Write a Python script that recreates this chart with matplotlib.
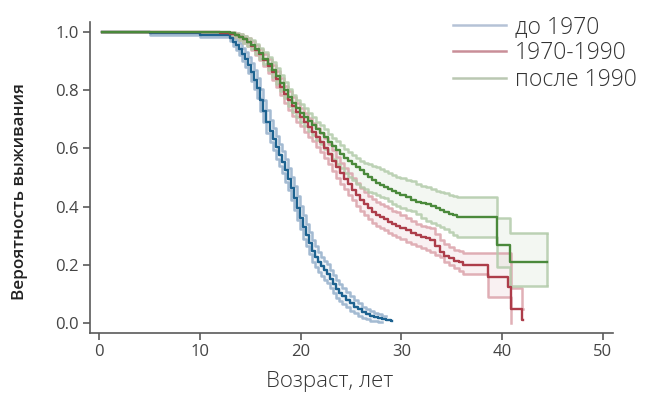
import numpy as np
import matplotlib
matplotlib.use("Agg")
import matplotlib.pyplot as plt

plt.rcParams['font.family'] = ['Open Sans', 'DejaVu Sans']

# --- данные (возраст, выживаемость, границы интервала) ---
labels = ['до 1970', '1970-1990', 'после 1990']

blue_t = [0.3, 5, 10, 13.0, 13.3, 13.6, 13.9, 14.2, 14.5, 14.8,
          15.1, 15.4, 15.7, 16.0, 16.3, 16.6, 16.9, 17.2, 17.5, 17.8,
          18.1, 18.4, 18.7, 19.0, 19.3, 19.6, 19.9, 20.2, 20.5, 20.8,
          21.1, 21.4, 21.7, 22.0, 22.3, 22.6, 22.9, 23.2, 23.5, 23.8,
          24.1, 24.5, 24.9, 25.3, 25.7, 26.1, 26.5, 26.9, 27.3, 27.7,
          28.1, 28.5, 29.0, 29.1]
blue_s = [1.0, 0.995, 0.99, 0.979, 0.966, 0.953, 0.94, 0.922, 0.905, 0.885,
          0.862, 0.835, 0.807, 0.765, 0.727, 0.692, 0.66, 0.632, 0.603, 0.578,
          0.552, 0.524, 0.494, 0.463, 0.43, 0.395, 0.362, 0.33, 0.302, 0.276,
          0.248, 0.228, 0.21, 0.195, 0.182, 0.17, 0.152, 0.134, 0.118, 0.105,
          0.093, 0.08, 0.068, 0.057, 0.047, 0.037, 0.031, 0.026, 0.022, 0.019,
          0.014, 0.01, 0.007, 0.007]
blue_hi = [1.0, 1.0, 0.998, 0.99, 0.98, 0.97, 0.96, 0.945, 0.93, 0.912,
           0.892, 0.868, 0.842, 0.802, 0.765, 0.73, 0.698, 0.67, 0.642, 0.616,
           0.59, 0.562, 0.532, 0.502, 0.47, 0.435, 0.402, 0.37, 0.34, 0.313,
           0.285, 0.264, 0.245, 0.228, 0.215, 0.202, 0.184, 0.165, 0.148, 0.134,
           0.121, 0.106, 0.093, 0.08, 0.068, 0.057, 0.049, 0.042, 0.036, 0.031,
           0.024, 0.024]
blue_lo = [1.0, 0.988, 0.982, 0.968, 0.952, 0.936, 0.92, 0.9, 0.88, 0.858,
           0.832, 0.802, 0.772, 0.728, 0.69, 0.654, 0.622, 0.594, 0.564, 0.54,
           0.514, 0.486, 0.456, 0.424, 0.39, 0.355, 0.322, 0.29, 0.264, 0.239,
           0.211, 0.192, 0.175, 0.162, 0.149, 0.138, 0.12, 0.103, 0.088, 0.076,
           0.065, 0.054, 0.043, 0.034, 0.026, 0.018, 0.013, 0.009, 0.006, 0.003,
           0.003]

red_t = [0.3, 12.0, 13.0, 13.5, 13.9, 14.3, 14.7, 15.1, 15.5, 15.9,
         16.3, 16.7, 17.1, 17.5, 17.9, 18.3, 18.7, 19.1, 19.5, 19.9,
         20.3, 20.7, 21.1, 21.5, 21.9, 22.3, 22.7, 23.1, 23.5, 23.9,
         24.3, 24.7, 25.1, 25.5, 25.9, 26.3, 26.7, 27.1, 27.5, 27.9,
         28.3, 28.7, 29.1, 29.5, 29.9, 30.4, 30.9, 31.4, 31.9, 32.4,
         32.8, 33.3, 33.8, 34.2, 34.7, 35.2, 35.7, 36.1, 38.6, 40.6,
         40.9, 42.0, 42.1]
red_s = [1.0, 0.997, 0.993, 0.99, 0.983, 0.974, 0.965, 0.952, 0.938, 0.922,
         0.903, 0.883, 0.862, 0.838, 0.812, 0.786, 0.765, 0.745, 0.725, 0.707,
         0.69, 0.673, 0.656, 0.638, 0.62, 0.6, 0.58, 0.558, 0.535, 0.515,
         0.496, 0.476, 0.458, 0.44, 0.423, 0.408, 0.395, 0.382, 0.372, 0.365,
         0.357, 0.348, 0.34, 0.334, 0.328, 0.318, 0.308, 0.302, 0.297, 0.292,
         0.285, 0.265, 0.245, 0.232, 0.222, 0.215, 0.21, 0.2, 0.16, 0.124,
         0.05, 0.01, 0.01]
red_hi = [1.0, 1.0, 0.999, 0.997, 0.992, 0.985, 0.978, 0.967, 0.955, 0.94,
          0.923, 0.905, 0.886, 0.864, 0.84, 0.815, 0.795, 0.776, 0.756, 0.738,
          0.722, 0.705, 0.688, 0.671, 0.653, 0.634, 0.614, 0.593, 0.571, 0.551,
          0.533, 0.514, 0.497, 0.48, 0.464, 0.45, 0.438, 0.426, 0.416, 0.41,
          0.402, 0.394, 0.386, 0.38, 0.372, 0.362, 0.35, 0.34, 0.335, 0.33,
          0.326, 0.305, 0.285, 0.272, 0.26, 0.252, 0.246, 0.24, 0.24, 0.24,
          0.12, 0.05, 0.05]
red_lo = [1.0, 0.993, 0.986, 0.982, 0.973, 0.962, 0.95, 0.936, 0.92, 0.902,
          0.881, 0.859, 0.836, 0.81, 0.782, 0.755, 0.733, 0.712, 0.692, 0.675,
          0.657, 0.64, 0.624, 0.606, 0.587, 0.566, 0.545, 0.522, 0.499, 0.479,
          0.46, 0.44, 0.421, 0.403, 0.386, 0.37, 0.356, 0.344, 0.335, 0.328,
          0.32, 0.311, 0.302, 0.295, 0.288, 0.278, 0.27, 0.265, 0.258, 0.252,
          0.245, 0.235, 0.228, 0.21, 0.198, 0.188, 0.178, 0.168, 0.09, 0.09,
          0.0]

green_t = [0.3, 12.0, 13.0, 13.5, 13.9, 14.3, 14.7, 15.1, 15.5, 15.9,
           16.3, 16.7, 17.1, 17.5, 17.9, 18.3, 18.7, 19.1, 19.5, 19.9,
           20.3, 20.7, 21.1, 21.5, 21.9, 22.3, 22.7, 23.1, 23.5, 23.9,
           24.3, 24.7, 25.1, 25.5, 25.9, 26.3, 26.7, 27.1, 27.5, 27.9,
           28.3, 28.7, 29.1, 29.5, 29.9, 30.4, 30.9, 31.4, 31.9, 32.4,
           32.9, 33.4, 33.8, 34.2, 34.7, 35.1, 35.5, 39.5, 40.8, 44.4]
green_s = [1.0, 0.998, 0.995, 0.99, 0.983, 0.975, 0.966, 0.955, 0.941, 0.926,
           0.908, 0.89, 0.87, 0.848, 0.825, 0.8, 0.775, 0.755, 0.738, 0.722,
           0.708, 0.693, 0.68, 0.667, 0.654, 0.638, 0.622, 0.607, 0.594, 0.58,
           0.567, 0.556, 0.546, 0.536, 0.526, 0.513, 0.502, 0.49, 0.482, 0.475,
           0.468, 0.46, 0.452, 0.446, 0.44, 0.432, 0.423, 0.417, 0.412, 0.408,
           0.403, 0.395, 0.388, 0.383, 0.376, 0.37, 0.364, 0.268, 0.21, 0.21]
green_hi = [1.0, 1.0, 0.999, 0.997, 0.992, 0.986, 0.979, 0.97, 0.958, 0.945,
            0.93, 0.913, 0.895, 0.874, 0.852, 0.828, 0.804, 0.784, 0.767, 0.752,
            0.737, 0.72, 0.706, 0.692, 0.68, 0.665, 0.65, 0.636, 0.624, 0.61,
            0.597, 0.586, 0.576, 0.566, 0.556, 0.55, 0.545, 0.54, 0.536, 0.528,
            0.522, 0.515, 0.508, 0.502, 0.497, 0.492, 0.488, 0.478, 0.472, 0.466,
            0.46, 0.455, 0.45, 0.447, 0.44, 0.436, 0.433, 0.36, 0.309, 0.309]
green_lo = [1.0, 0.995, 0.99, 0.982, 0.973, 0.963, 0.952, 0.94, 0.925, 0.908,
            0.888, 0.868, 0.846, 0.822, 0.797, 0.771, 0.746, 0.726, 0.708, 0.692,
            0.676, 0.66, 0.645, 0.63, 0.614, 0.597, 0.58, 0.563, 0.547, 0.531,
            0.515, 0.502, 0.49, 0.478, 0.468, 0.459, 0.451, 0.445, 0.44, 0.434,
            0.428, 0.418, 0.41, 0.403, 0.396, 0.39, 0.384, 0.374, 0.362, 0.352,
            0.343, 0.336, 0.33, 0.322, 0.312, 0.304, 0.296, 0.192, 0.127, 0.127]

main_colors = ['#1d6290', '#ad3d4a', '#4a893b']
band_colors = ['#94afcb', '#dba2aa', '#b2cba9']
legend_colors = ['#b5c2d6', '#c98e98', '#bac8b2']

groups = [(blue_t, blue_s, blue_lo, blue_hi),
          (red_t, red_s, red_lo, red_hi),
          (green_t, green_s, green_lo, green_hi)]

fig = plt.figure(figsize=(6.46, 3.97), dpi=100)
ax = fig.add_axes([0.139, 0.161, 0.81, 0.784])

for i, (t, s, lo, hi) in enumerate(groups):
    t = np.array(t)
    n = min(len(lo), len(hi))
    ax.fill_between(t[:n], lo[:n], hi[:n], step='post', color=band_colors[i],
                    alpha=0.15, linewidth=0)
    ax.plot(t[:len(hi)], hi, drawstyle='steps-post', color=band_colors[i], lw=1.8, alpha=0.85)
    ax.plot(t[:len(lo)], lo, drawstyle='steps-post', color=band_colors[i], lw=1.8, alpha=0.85)

# зелёная полоса закрыта вертикальной линией на конце
ax.vlines(green_t[-1], green_lo[-1], green_hi[-1], color=band_colors[2], lw=1.8, alpha=0.85)

for i, (t, s, lo, hi) in enumerate(groups):
    ax.plot(t, s, drawstyle='steps-post', color=main_colors[i], lw=1.7)

ax.set_xlim(-0.94, 51.0)
ax.set_ylim(-0.034, 1.034)
ax.set_xticks([0, 10, 20, 30, 40, 50])
ax.set_yticks([0.0, 0.2, 0.4, 0.6, 0.8, 1.0])
ax.set_yticklabels(['0.0', '0.2', '0.4', '0.6', '0.8', '1.0'])

for side in ['top', 'right']:
    ax.spines[side].set_visible(False)
for side in ['left', 'bottom']:
    ax.spines[side].set_color('#5a5a5a')
    ax.spines[side].set_linewidth(1.2)
ax.tick_params(direction='out', length=5, width=1.2, color='#5a5a5a',
               labelsize=12, labelcolor='#444444', pad=3)

ax.set_ylabel('Вероятность выживания', fontsize=12.3, color='#222222',
              fontweight='semibold')
ax.yaxis.set_label_coords(-0.119, 0.455)
ax.set_xlabel('Возраст, лет', fontsize=16, color='#333333', fontweight='light')
ax.xaxis.set_label_coords((330 - 90) / 523, -0.123)

handles = [plt.Line2D([], [], color=c, lw=1.8) for c in legend_colors]
leg = fig.legend(handles, labels, loc='upper right', bbox_to_anchor=(1.0, 0.985),
                 frameon=False, handlelength=2.3, handletextpad=0.4,
                 labelspacing=0.1, borderaxespad=0.0,
                 prop={'size': 16.5, 'weight': 'light'})
for txt in leg.get_texts():
    txt.set_color('#333333')

fig.savefig('out.png', dpi=100)
